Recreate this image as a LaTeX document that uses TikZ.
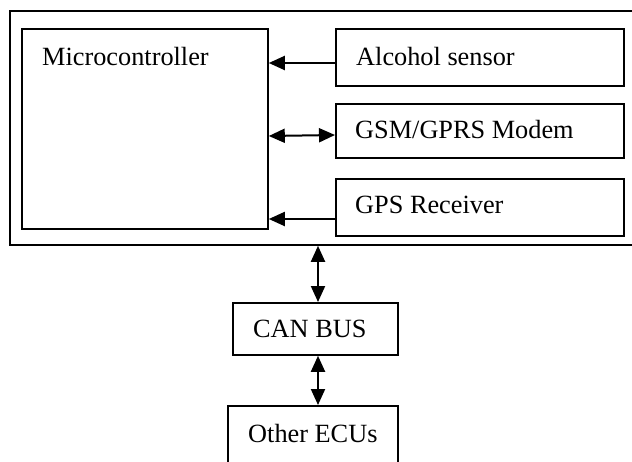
\documentclass[tikz,border=0pt]{standalone}
\usepackage{fontspec}
\setmainfont{Liberation Serif}
\usetikzlibrary{arrows.meta}
\begin{document}
\begin{tikzpicture}[x=1pt,y=-1pt,
  box/.style={draw, line width=1.8pt, inner sep=0pt, anchor=north west},
  lbl/.style={anchor=base west, inner sep=0pt, font=\fontsize{26.3}{30}\selectfont},
  tip/.style={},
  conn/.style={line width=2pt, -{Triangle[length=16pt,width=14pt]}},
  dconn/.style={line width=2pt, {Triangle[length=16pt,width=14pt]}-{Triangle[length=16pt,width=14pt]}}]
\useasboundingbox (0,0) rectangle (632,461);
\fill[white] (0,0) rectangle (632,461);
\clip (0,0) rectangle (632,461);
% boxes
\node[box, minimum width=640pt, minimum height=234pt] (outer) at (9,10) {};
\node[box, minimum width=246pt, minimum height=200pt] (mc) at (21,28) {};
\node[box, minimum width=288pt, minimum height=57pt] (alc) at (335,28) {};
\node[box, minimum width=288pt, minimum height=54pt] (gsm) at (335,103) {};
\node[box, minimum width=288pt, minimum height=57pt] (gps) at (335,178) {};
\node[box, minimum width=165pt, minimum height=52pt] (can) at (232,302) {};
\node[box, minimum width=170pt, minimum height=80pt] (ecu) at (227,405) {};
% labels
\node[lbl] (tmc) at (42,65) {Microcontroller};
\node[lbl] (talc) at (356,65) {Alcohol sensor};
\node[lbl] (tgsm) at (355,138) {GSM/GPRS Modem};
\node[lbl] (tgps) at (355,213) {GPS Receiver};
\node[lbl] (tcan) at (253,337) {CAN BUS};
\node[lbl] (tecu) at (248,442) {Other ECUs};
% connectors
\coordinate (ya) at (0,63);
\coordinate (yg1) at (0,136);
\coordinate (yg2) at (0,135);
\coordinate (yp) at (0,219);
\coordinate (xb) at (318,0);
\draw[conn] (alc.west |- ya) -- (mc.east |- ya);
\draw[dconn] (mc.east |- yg1) -- (gsm.west |- yg2);
\draw[conn] (gps.west |- yp) -- (mc.east |- yp);
\draw[dconn] (outer.south -| xb) -- (can.north -| xb);
\draw[dconn] (can.south -| xb) -- (ecu.north -| xb);
\end{tikzpicture}
\end{document}
